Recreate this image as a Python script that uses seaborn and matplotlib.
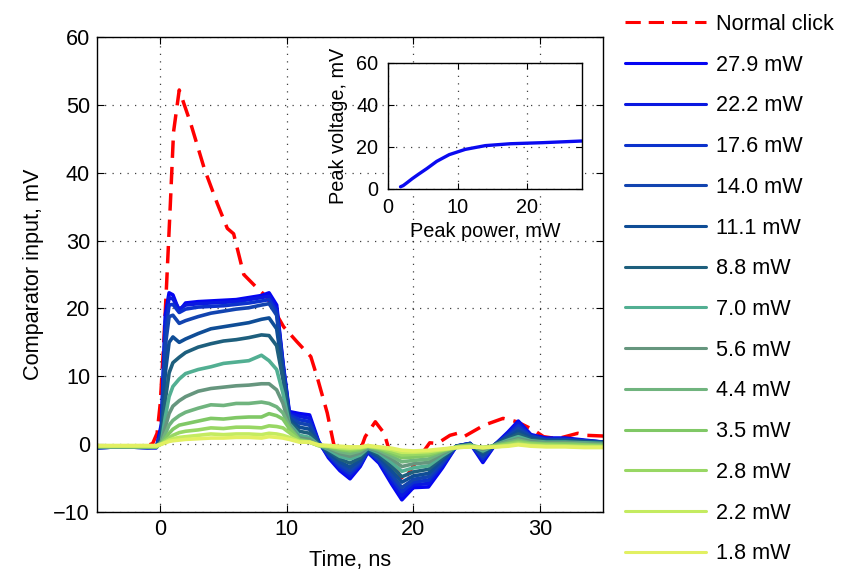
import numpy as np
import pandas as pd
import matplotlib
matplotlib.use("Agg")
import matplotlib.pyplot as plt
import seaborn as sns

# ---------------- data ----------------
t_click = [-5, -3, -1, -0.6, -0.25, 0.0, 0.25, 0.5, 0.8, 1.05, 1.5, 2.4, 3.5, 4.5, 5.3,
           5.8, 6.6, 7.5, 8.4, 9.75, 10.8, 11.9, 12.4, 13.2, 13.7, 14.1, 15.0, 15.6, 16.2,
           17.0, 17.7, 18.4, 19.2, 20.3, 21.3, 21.9, 22.9, 23.5, 24.0, 25.6, 27.1, 28.2,
           29.5, 30.3, 31.4, 33.0, 33.7, 35.0]
v_click = [-0.3, -0.3, -0.2, 0.1, 1.6, 6.0, 14.0, 23.5, 35.5, 46.0, 52.2, 47.3, 40.5, 35.5,
           31.8, 31.0, 25.0, 23.3, 21.7, 17.3, 15.1, 12.9, 9.9, 4.6, 0.1, -2.1, -4.8, -2.0,
           1.1, 3.3, 1.6, -2.8, -5.5, -2.4, 0.2, 0.1, 1.3, 1.6, 1.1, 2.8, 3.8, 3.3, 2.1, 1.1,
           0.8, 1.6, 1.3, 1.2]

t_ns = [-5, -3, -1, -0.3, 0.1, 0.4, 0.7, 1.0, 1.5, 2.0, 3.0, 4.0, 5.0, 6.0, 7.0, 8.0, 8.6,
        9.2, 9.7, 10.2, 11.0, 11.8, 12.5, 13.3, 14.2, 15.0, 15.8, 16.4, 17.3, 18.3, 19.1,
        20.0, 21.2, 22.3, 23.4, 24.5, 25.5, 26.5, 27.5, 28.3, 29.3, 30.5, 32.0, 33.5, 35.0]

power_labels = ["27.9 mW", "22.2 mW", "17.6 mW", "14.0 mW", "11.1 mW", "8.8 mW", "7.0 mW",
                "5.6 mW", "4.4 mW", "3.5 mW", "2.8 mW", "2.2 mW", "1.8 mW"]

v_27_9 = [-0.5, -0.4, -0.5, -0.5, 3.0, 19.0, 22.3, 22.0, 19.6, 20.8, 21.0, 21.1, 21.2, 21.3,
          21.6, 21.9, 22.3, 20.5, 12.0, 4.8, 4.5, 4.3, 0.5, -2.0, -3.9, -5.1, -3.3, -1.2, -2.8,
          -5.9, -8.2, -6.4, -6.3, -3.5, -0.3, 0.1, -2.7, 0.0, 1.8, 3.4, 1.4, 0.9, 0.9, 0.6, 0.3]
v_22_2 = [-0.5, -0.4, -0.5, -0.5, 2.5, 18.0, 21.6, 21.4, 19.9, 20.5, 20.7, 20.8, 20.9, 21.0,
          21.3, 21.6, 21.8, 20.0, 11.8, 4.5, 4.1, 3.8, 0.4, -1.8, -3.6, -4.7, -3.1, -1.1, -2.6,
          -5.5, -7.6, -6.0, -5.8, -3.2, -0.3, 0.1, -2.4, 0.0, 1.6, 3.1, 1.3, 0.8, 0.8, 0.5, 0.3]
v_17_6 = [-0.5, -0.4, -0.5, -0.5, 2.0, 16.5, 20.5, 20.6, 19.4, 19.9, 20.2, 20.3, 20.4, 20.6,
          20.8, 21.1, 21.3, 19.5, 11.5, 4.3, 3.6, 3.3, 0.3, -1.6, -3.3, -4.3, -2.9, -1.0, -2.4,
          -5.0, -7.0, -5.6, -5.3, -2.9, -0.3, 0.1, -2.1, 0.0, 1.4, 2.7, 1.2, 0.7, 0.7, 0.5, 0.3]
v_14_0 = [-0.5, -0.4, -0.5, -0.4, 1.5, 14.5, 18.8, 19.0, 17.8, 18.2, 18.8, 19.3, 19.6, 19.9,
          20.1, 20.5, 20.7, 19.0, 11.0, 4.0, 3.1, 2.8, 0.2, -1.4, -3.0, -3.9, -2.6, -0.9, -2.2,
          -4.5, -6.4, -5.2, -4.8, -2.6, -0.3, 0.0, -1.8, 0.0, 1.2, 2.3, 1.1, 0.6, 0.6, 0.4, 0.3]
v_11_1 = [-0.5, -0.4, -0.4, -0.4, 1.0, 10.5, 15.0, 15.8, 15.0, 15.5, 16.3, 17.0, 17.3, 17.6,
          17.9, 18.4, 18.6, 17.0, 10.5, 3.7, 2.5, 2.2, 0.1, -1.2, -2.6, -3.4, -2.3, -0.8, -1.9,
          -3.9, -5.6, -4.7, -4.3, -2.3, -0.3, 0.0, -1.5, 0.0, 1.0, 1.9, 0.9, 0.5, 0.5, 0.4, 0.2]
v_8_8 = [-0.4, -0.4, -0.4, -0.4, 0.6, 6.5, 10.5, 12.0, 12.8, 13.5, 14.3, 14.8, 15.2, 15.4,
         15.7, 16.1, 16.0, 14.5, 9.5, 3.3, 1.9, 1.6, 0.0, -1.0, -2.2, -2.8, -2.0, -0.7, -1.6,
         -3.3, -4.8, -4.1, -3.7, -2.0, -0.3, 0.0, -1.2, 0.0, 0.8, 1.5, 0.7, 0.4, 0.4, 0.3, 0.2]
v_7_0 = [-0.4, -0.4, -0.4, -0.4, 0.4, 4.0, 7.0, 8.5, 9.6, 10.4, 11.0, 11.4, 11.9, 12.1,
         12.3, 13.1, 12.3, 11.0, 7.5, 3.0, 1.3, 1.0, -0.1, -0.8, -1.8, -2.2, -1.6, -0.6, -1.3,
         -2.7, -4.0, -3.5, -3.2, -1.7, -0.4, -0.1, -1.0, -0.1, 0.6, 1.1, 0.5, 0.3, 0.3, 0.2, 0.1]
v_5_6 = [-0.4, -0.4, -0.4, -0.4, 0.3, 2.5, 4.5, 5.6, 6.4, 7.0, 7.8, 8.2, 8.4, 8.6,
         8.7, 8.9, 8.9, 8.0, 6.0, 2.8, 0.9, 0.7, -0.1, -0.6, -1.4, -1.8, -1.3, -0.5, -1.1,
         -2.2, -3.3, -2.9, -2.7, -1.4, -0.4, -0.1, -0.8, -0.1, 0.4, 0.8, 0.4, 0.2, 0.2, 0.1, 0.0]
v_4_4 = [-0.4, -0.4, -0.4, -0.4, 0.2, 1.5, 2.8, 3.5, 4.2, 4.7, 5.3, 5.8, 5.7, 6.0,
         6.0, 6.2, 6.0, 5.5, 4.6, 2.6, 0.7, 0.4, -0.1, -0.5, -1.1, -1.4, -1.0, -0.4, -0.9,
         -1.8, -2.6, -2.4, -2.2, -1.2, -0.4, -0.2, -0.6, -0.2, 0.3, 0.6, 0.2, 0.1, 0.1, 0.0, -0.1]
v_3_5 = [-0.3, -0.3, -0.4, -0.4, 0.1, 0.8, 1.6, 2.2, 2.8, 3.0, 3.4, 3.8, 3.7, 3.9,
         4.0, 4.0, 4.5, 4.2, 3.7, 2.3, 0.6, 0.3, -0.2, -0.4, -0.8, -1.0, -0.8, -0.3, -0.7,
         -1.4, -2.0, -1.9, -1.7, -1.0, -0.4, -0.2, -0.5, -0.2, 0.1, 0.4, 0.1, 0.0, 0.0, -0.1, -0.2]
v_2_8 = [-0.3, -0.3, -0.3, -0.3, 0.1, 0.5, 0.9, 1.3, 1.7, 1.9, 2.1, 2.4, 2.3, 2.5,
         2.5, 2.4, 2.7, 2.6, 2.4, 1.7, 0.5, 0.3, -0.2, -0.3, -0.6, -0.8, -0.6, -0.3, -0.6,
         -1.1, -1.6, -1.5, -1.4, -0.9, -0.5, -0.3, -0.5, -0.3, 0.0, 0.2, 0.0, -0.1, -0.2, -0.2, -0.3]
v_2_2 = [-0.3, -0.3, -0.3, -0.3, 0.0, 0.3, 0.6, 0.8, 1.0, 1.1, 1.3, 1.5, 1.4, 1.5,
         1.5, 1.4, 1.6, 1.5, 1.3, 1.0, 0.4, 0.3, -0.2, -0.3, -0.5, -0.6, -0.5, -0.3, -0.5,
         -0.8, -1.2, -1.2, -1.1, -0.8, -0.5, -0.4, -0.5, -0.4, -0.2, 0.0, -0.2, -0.3, -0.3, -0.4, -0.4]
v_1_8 = [-0.2, -0.2, -0.2, -0.2, 0.0, 0.2, 0.4, 0.5, 0.6, 0.7, 0.8, 0.9, 0.9, 1.0,
         1.0, 0.9, 1.1, 1.0, 0.9, 0.7, 0.3, 0.3, -0.1, -0.2, -0.3, -0.4, -0.4, -0.2, -0.4,
         -0.6, -0.9, -1.0, -0.9, -0.7, -0.5, -0.4, -0.5, -0.4, -0.3, -0.1, -0.3, -0.4, -0.4, -0.5, -0.5]

series_values = [v_27_9, v_22_2, v_17_6, v_14_0, v_11_1, v_8_8, v_7_0, v_5_6, v_4_4,
                 v_3_5, v_2_8, v_2_2, v_1_8]

peak_power = [1.8, 2.2, 2.8, 3.5, 4.4, 5.6, 7.0, 8.8, 11.1, 14.0, 17.6, 22.2, 27.9]
peak_voltage = [0.9, 1.5, 3.0, 4.8, 6.9, 9.6, 13.0, 16.2, 18.7, 20.5, 21.4, 21.9, 22.7]

# ---------------- style ----------------
series_colors = ["#0505F2", "#0A18E0", "#0C32CC", "#1244B0", "#0F4D96", "#1E5F7D",
                 "#52AF92", "#66967E", "#70B47E", "#80C866", "#98D764", "#C4EB60", "#E2F062"]

sns.set_theme(style="white")
plt.rcParams["font.family"] = ["Liberation Sans", "DejaVu Sans"]
plt.rcParams["axes.edgecolor"] = "black"
plt.rcParams["text.color"] = "black"
plt.rcParams["axes.labelcolor"] = "black"
plt.rcParams["xtick.color"] = "black"
plt.rcParams["ytick.color"] = "black"

FS = 15.6
FS_IN = 14.3

fig = plt.figure(figsize=(8.42, 5.74), dpi=100)
ax = fig.add_axes([0.1152, 0.108, 0.601, 0.8275])

long = []
for lab, vals in zip(power_labels, series_values):
    assert len(vals) == len(t_ns), lab
    long.append(pd.DataFrame({"t": t_ns, "v": vals, "power": lab}))
df = pd.concat(long, ignore_index=True)
click_df = pd.DataFrame({"t": t_click, "v": v_click})

sns.lineplot(data=click_df, x="t", y="v", ax=ax, color="red", lw=2.5,
             label="Normal click", sort=False)
ax.get_lines()[-1].set_dashes([5.0, 2.6])
for lab, col in zip(power_labels, series_colors):
    sns.lineplot(data=df[df["power"] == lab], x="t", y="v", ax=ax, color=col, lw=2.6,
                 label=lab, sort=False)

handles, labels = ax.get_legend_handles_labels()
if ax.get_legend() is not None:
    ax.get_legend().remove()

ax.set_xlim(-5, 35)
ax.set_ylim(-10, 60)
ax.set_xticks([0, 10, 20, 30])
ax.set_yticks(list(range(-10, 61, 10)))
ax.tick_params(direction="in", top=True, right=True, bottom=True, left=True,
               length=5, width=0.8, labelsize=FS, pad=5)
ax.grid(True, color="black", linestyle=(0, (1, 5)), linewidth=0.9, alpha=0.75)
for s in ax.spines.values():
    s.set_color("black")
    s.set_linewidth(1.0)
    s.set_visible(True)
ax.set_xlabel("Time, ns", fontsize=FS, labelpad=7)
ax.set_ylabel("Comparator input, mV", fontsize=FS, labelpad=7)

leg = fig.legend(handles, labels, loc="upper left", bbox_to_anchor=(625 / 842, 1 - 14 / 574),
                 frameon=False, fontsize=FS, handlelength=3.75, handletextpad=0.45,
                 labelspacing=0.91, borderpad=0, borderaxespad=0)
for h in leg.get_lines():
    h.set_linewidth(2.2)

# ---------------- inset ----------------
ins = fig.add_axes([0.4608, 0.6713, 0.2304, 0.2195])
ins.set_facecolor("white")
sns.lineplot(x=peak_power, y=peak_voltage, ax=ins, color="#0A0AF0", lw=2.4)
ins.set_xlim(0, 27.9)
ins.set_ylim(0, 60)
ins.set_xticks([0, 10, 20])
ins.set_yticks([0, 20, 40, 60])
ins.tick_params(direction="in", top=True, right=True, bottom=True, left=True,
                length=4, width=0.8, labelsize=FS_IN, pad=7)
ins.grid(True, color="black", linestyle=(0, (1, 5)), linewidth=0.9, alpha=0.75)
for s in ins.spines.values():
    s.set_color("black")
    s.set_linewidth(1.0)
    s.set_visible(True)
ins.set_xlabel("Peak power, mW", fontsize=FS_IN, labelpad=3)
ins.set_ylabel("Peak voltage, mV", fontsize=FS_IN, labelpad=6)

fig.savefig("out.png", dpi=100)
